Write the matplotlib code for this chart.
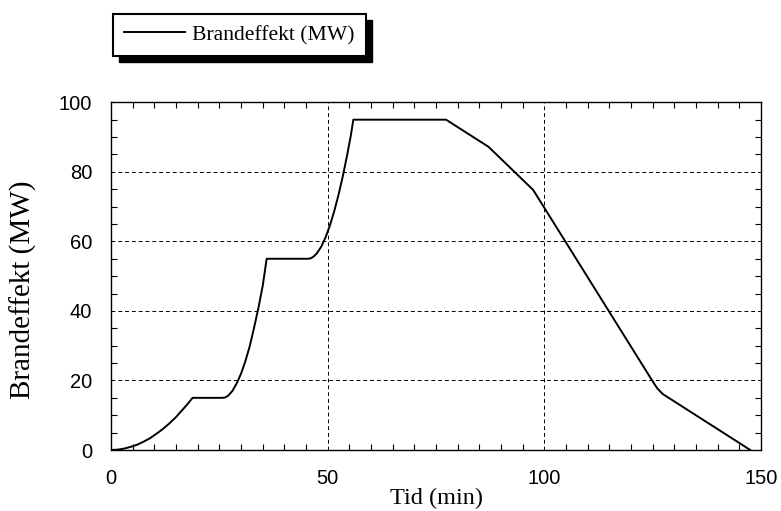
import matplotlib
matplotlib.use("Agg")
import matplotlib.pyplot as plt
from matplotlib.patches import Rectangle
from matplotlib.ticker import MultipleLocator
from matplotlib.transforms import IdentityTransform

# avlästa punkter (tid i minuter, brandeffekt i MW)
tid = [0, 1.5, 3, 4.5, 6, 7.5, 9, 10.5, 12, 13.5, 15, 16.5, 17.7, 18.8,
       25.7, 26.3, 27, 28, 29, 30, 31, 32, 33, 34, 35, 35.9,
       45.4, 46, 46.7, 47.5, 48.5, 49.5, 50.5, 51.5, 52.5, 53.5, 54.5, 55.3, 55.9,
       77.3, 87.1, 97.4, 124.8, 126, 127.3, 147.5]
effekt = [0, 0.1, 0.4, 0.9, 1.5, 2.4, 3.4, 4.7, 6.1, 7.7, 9.5, 11.6, 13.3, 15,
          15, 15.1, 15.6, 17.0, 19.2, 22.0, 25.6, 29.9, 35.2, 40.9, 47.3, 55,
          55, 55.1, 55.6, 56.6, 58.5, 61.2, 64.6, 68.7, 73.5, 78.9, 85.0, 90.3, 95,
          95, 87.2, 74.8, 20.1, 17.8, 16.1, 0]

x_ticks = [0, 50, 100, 150]
y_ticks = [0, 20, 40, 60, 80, 100]

W, H = 781, 511
fig = plt.figure(figsize=(W / 100, H / 100), dpi=100)
ax = fig.add_axes([111.1 / W, 1 - 450 / H, 650 / W, 347.7 / H])

line, = ax.plot(tid, effekt, color="black", lw=1.4, label="Brandeffekt (MW)")

ax.set_xlim(0, 150)
ax.set_ylim(0, 100)
ax.set_xticks(x_ticks)
ax.set_yticks(y_ticks)
ax.xaxis.set_minor_locator(MultipleLocator(5))
ax.yaxis.set_minor_locator(MultipleLocator(5))
ax.grid(True, which="major", color="black", ls=(0, (4, 3)), lw=0.7)

ax.tick_params(which="both", direction="in", top=True, right=True, width=0.8, color="black")
ax.tick_params(which="major", length=0, pad=13.5)
ax.tick_params(which="minor", length=4.3)
for lab in ax.get_xticklabels() + ax.get_yticklabels():
    lab.set_family("Liberation Sans")
    lab.set_fontsize(14.5)
for s in ax.spines.values():
    s.set_linewidth(1.0)

ax.set_xlabel("Tid (min)", family="Liberation Serif", fontsize=17.5)
ax.xaxis.set_label_coords(0.5, -0.11)
ax.set_ylabel("Brandeffekt (MW)", family="Liberation Serif", fontsize=21)
ax.yaxis.label.set_verticalalignment("center")
ax.yaxis.set_label_coords(-0.135, 0.462)

leg = fig.legend(handles=[line], loc="upper left",
                 bbox_to_anchor=(113.3 / W, 1 - 14 / H), borderaxespad=0,
                 prop={"family": "Liberation Serif", "size": 15.6},
                 handlelength=2.8, handletextpad=0.35, borderpad=0.5,
                 fancybox=False, framealpha=1, edgecolor="black")
leg.get_frame().set_linewidth(1.5)

# svart skugga under legendrutan
fig.canvas.draw()
bb = leg.get_frame().get_window_extent()
fig.patches.append(Rectangle((bb.x0 + 6, bb.y0 - 6), bb.width, bb.height,
                             transform=IdentityTransform(), facecolor="black",
                             edgecolor="black", zorder=4))

fig.savefig("out.png", dpi=100)
